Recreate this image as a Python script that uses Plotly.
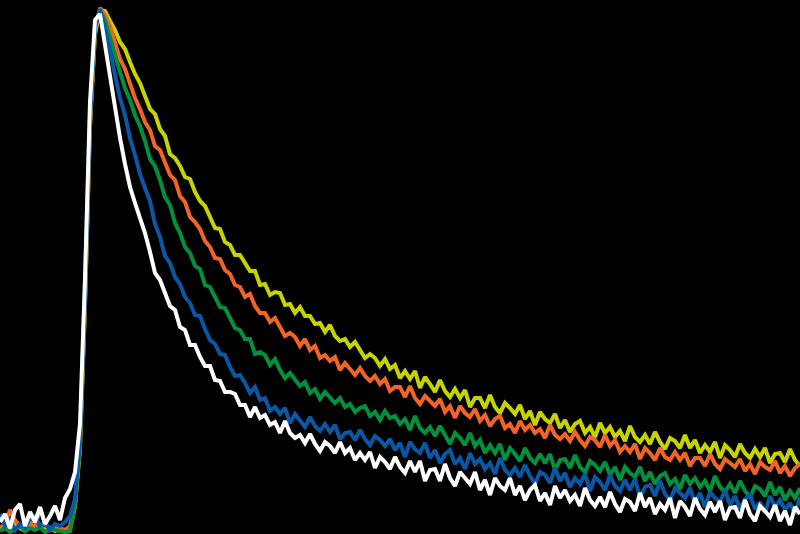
import plotly.graph_objects as go

# Fluorescence decay curves (counts, arbitrary units), one value per 0.1 ns channel
yellow_counts = [4, 8, 5, 10, 6, 3, 9, 5, 7, 4, 6, 3, 5, 2, 4, 28, 85, 228, 408, 500,
    524, 523, 513, 504, 492, 485, 472, 460, 451, 438,
    425, 420, 405, 398, 380, 376, 368, 357, 355, 342,
    333, 328, 317, 306, 305, 292, 289, 279, 279, 271,
    263, 263, 249, 250, 239, 242, 241, 229, 230, 221,
    227, 218, 218, 210, 211, 202, 209, 198, 193, 195,
    187, 192, 183, 176, 180, 176, 168, 175, 165, 169,
    156, 163, 155, 163, 146, 157, 150, 142, 154, 143,
    137, 145, 136, 144, 127, 136, 136, 126, 139, 127,
    121, 131, 126, 120, 129, 115, 123, 109, 122, 115,
    111, 120, 106, 114, 102, 110, 113, 101, 107, 97,
    111, 101, 107, 97, 103, 93, 108, 97, 92, 99,
    90, 102, 92, 85, 96, 93, 86, 99, 86, 94,
    81, 89, 82, 92, 76, 89, 84, 77, 90, 81,
    76, 85, 77, 86, 71, 80, 81, 72, 85, 74,
    68]

orange_counts = [6, 10, 24, 14, 8, 4, 12, 6, 26, 10, 4, 8, 6, 4, 8, 30, 90, 232, 412, 504,
    526, 519, 508, 491, 475, 465, 450, 436, 425, 412,
    404, 388, 384, 371, 359, 354, 338, 332, 317, 312,
    305, 293, 287, 276, 275, 264, 260, 249, 247, 237,
    240, 228, 221, 221, 212, 216, 206, 198, 201, 197,
    188, 195, 184, 188, 176, 179, 173, 177, 164, 171,
    165, 159, 166, 158, 153, 158, 150, 155, 143, 147,
    147, 137, 148, 136, 130, 138, 133, 128, 135, 122,
    128, 116, 128, 121, 117, 125, 113, 119, 108, 115,
    118, 106, 110, 101, 113, 104, 109, 101, 105, 96,
    109, 99, 95, 100, 93, 102, 94, 88, 97, 94,
    87, 99, 88, 94, 82, 88, 82, 90, 75, 86,
    81, 74, 86, 77, 74, 82, 74, 81, 68, 76,
    76, 68, 80, 70, 65, 75, 71, 67, 75, 63,
    70, 60, 72, 67, 64, 73, 61, 68, 58, 66,
    70]

green_counts = [3, 6, 2, 5, 8, 3, 6, 4, 7, 2, 5, 4, 3, 2, 3, 30, 90, 240, 420, 508,
    523, 514, 496, 481, 462, 446, 434, 419, 408, 393,
    375, 368, 354, 337, 329, 311, 301, 287, 281, 268,
    265, 249, 247, 237, 227, 226, 215, 206, 204, 195,
    195, 180, 182, 179, 169, 175, 164, 156, 161, 155,
    148, 152, 141, 145, 135, 142, 136, 131, 136, 127,
    130, 122, 126, 128, 118, 122, 114, 123, 116, 118,
    110, 115, 104, 118, 106, 101, 107, 98, 108, 98,
    90, 101, 96, 89, 101, 88, 94, 81, 89, 81,
    90, 74, 86, 80, 73, 86, 76, 71, 80, 71,
    80, 64, 74, 75, 66, 79, 67, 62, 73, 69,
    63, 72, 59, 67, 54, 67, 61, 57, 67, 53,
    62, 50, 58, 61, 50, 55, 45, 59, 50, 56,
    47, 53, 43, 58, 47, 42, 50, 41, 53, 43,
    37, 48, 45, 38, 52, 39, 47, 34, 43, 36,
    46]

blue_counts = [20, 8, 14, 4, 10, 6, 16, 18, 8, 12, 4, 10, 8, 12, 18, 35, 95, 238, 418, 507,
    525, 506, 485, 459, 436, 419, 396, 379, 360, 346,
    333, 310, 297, 278, 271, 257, 250, 237, 231, 219,
    218, 205, 194, 190, 180, 179, 167, 158, 159, 151,
    141, 147, 134, 136, 123, 127, 120, 126, 111, 120,
    114, 107, 117, 108, 103, 110, 102, 109, 95, 101,
    102, 94, 104, 95, 89, 98, 94, 88, 95, 84,
    91, 77, 92, 85, 81, 91, 76, 84, 71, 80,
    84, 70, 76, 65, 81, 70, 75, 65, 71, 60,
    76, 64, 59, 66, 57, 69, 58, 50, 62, 59,
    51, 66, 53, 61, 47, 56, 50, 60, 43, 57,
    52, 44, 59, 48, 43, 54, 44, 55, 37, 47,
    49, 38, 53, 40, 34, 46, 41, 36, 46, 31,
    41, 27, 42, 36, 32, 44, 29, 38, 25, 35,
    39, 25, 32, 21, 38, 27, 34, 24, 31, 20,
    37]

white_counts = [12, 20, 6, 24, 30, 8, 22, 12, 27, 10, 18, 28, 14, 36, 45, 62, 110, 255, 432, 514,
    520, 489, 457, 421, 396, 370, 347, 331, 316, 301,
    282, 261, 254, 241, 228, 224, 207, 204, 189, 189,
    177, 168, 168, 154, 153, 142, 142, 140, 129, 129,
    117, 127, 116, 119, 109, 112, 101, 113, 101, 96,
    99, 91, 100, 90, 83, 92, 88, 81, 92, 81,
    86, 74, 81, 74, 82, 66, 77, 72, 65, 77,
    67, 61, 73, 62, 73, 53, 64, 65, 53, 70,
    56, 48, 62, 56, 50, 62, 44, 54, 39, 56,
    48, 44, 56, 39, 48, 34, 44, 49, 33, 41,
    29, 48, 36, 44, 33, 39, 28, 46, 34, 28,
    37, 27, 42, 30, 22, 35, 32, 23, 41, 27,
    36, 20, 30, 24, 36, 16, 33, 27, 18, 36,
    25, 19, 32, 22, 33, 14, 26, 27, 16, 34,
    20, 13, 28, 23, 17, 29, 13, 23, 9, 27,
    20]

series_names = ["Sample A", "Sample B", "Sample C", "Sample D", "Sample E"]
series_colors = ["#c6d300", "#f26426", "#00903e", "#0a57a6", "#ffffff"]
series_values = [yellow_counts, orange_counts, green_counts, blue_counts, white_counts]
channel_width_ns = 0.1

fig = go.Figure()
for name, color, vals in zip(series_names, series_colors, series_values):
    t = [round(i * channel_width_ns, 2) for i in range(len(vals))]
    fig.add_trace(go.Scatter(
        x=t, y=vals, mode="lines", name=name,
        line=dict(color=color, width=4, shape="linear"),
        hoverinfo="skip",
    ))

fig.update_layout(
    width=800, height=534,
    margin=dict(l=0, r=0, t=0, b=0),
    paper_bgcolor="black", plot_bgcolor="black",
    showlegend=False,
    xaxis=dict(visible=False, range=[0, 16]),
    yaxis=dict(visible=False, range=[0, 534]),
)

fig.write_html(
    "out.html",
    config={"displayModeBar": False},
    post_script="document.body.style.margin='0';document.body.style.background='black';document.body.style.overflow='hidden';",
)
